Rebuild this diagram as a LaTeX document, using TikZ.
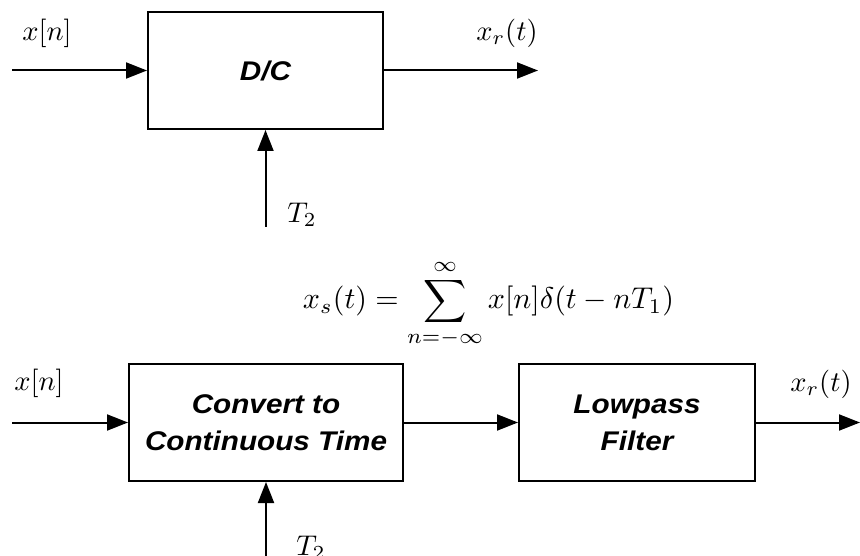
\documentclass[tikz,border=0pt]{standalone}
\usepackage{fontspec}
\usepackage{amsmath}
\usetikzlibrary{arrows.meta}
\newfontfamily\blockfont{Liberation Sans}[FakeStretch=1.1]
\begin{document}
\begin{tikzpicture}[x=1pt,y=-1pt,
  line width=2pt,
  block/.style={draw, line width=2pt, minimum height=117pt, align=center,
    font=\blockfont\bfseries\itshape\fontsize{27}{37}\selectfont, inner sep=0pt},
  sig/.style={-{Triangle[length=21pt,width=16pt]}},
  lbl/.style={inner sep=0pt, scale=2.85},
  eqn/.style={inner sep=0pt, scale=3.0}]
  \useasboundingbox (0,0) rectangle (860,556);

  % upper diagram: the D/C converter
  \node[block, minimum width=235pt] (dc) at (265.5,70.5) {D/C};
  \coordinate (dcin) at (12,70.5);
  \coordinate (dcout) at (538,70.5);
  \coordinate (dct) at (265.5,227);
  \draw[sig] (dcin) -- (dc.west);
  \draw[sig] (dc.east) -- (dcout);
  \draw[sig] (dct) -- (dc.south);
  \node[lbl] (xn1) at (47,33) {$x[n]$};
  \node[lbl] (xr1) at (507,33) {$x_r(t)$};
  \node[lbl] (t21) at (302,215) {$T_2$};

  % impulse-train signal between the two stages
  \node[eqn] (xs) at (488.5,304) {$\displaystyle x_s(t) = \sum_{n=-\infty}^{\infty} x[n]\delta(t-nT_1)$};

  % lower diagram: conversion followed by lowpass filtering
  \node[block, minimum width=274pt] (conv) at (266,422.5) {Convert to\\Continuous Time};
  \node[block, minimum width=236pt] (lp) at (637,422.5) {Lowpass\\Filter};
  \coordinate (cin) at (12,422.5);
  \coordinate (cout) at (860,422.5);
  \coordinate (ct) at (266,570);
  \draw[sig] (cin) -- (conv.west);
  \draw[sig] (conv.east) -- (lp.west);
  \draw[sig] (lp.east) -- (cout);
  \draw[sig] (ct) -- (conv.south);
  \node[lbl] (xn2) at (39,383) {$x[n]$};
  \node[lbl] (xr2) at (821,384) {$x_r(t)$};
  \node[lbl] (t22) at (311,548) {$T_2$};
\end{tikzpicture}
\end{document}
